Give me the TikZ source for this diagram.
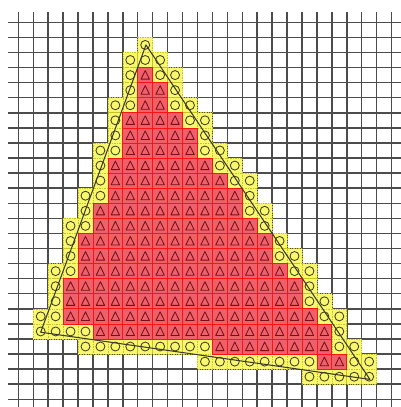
\documentclass[tikz,border=0pt]{standalone}
\usepackage{xcolor}
\usepackage{tikz}
\definecolor{haloyellow}{RGB}{248,248,110}
\definecolor{haloedge}{RGB}{200,195,30}
\definecolor{corered}{RGB}{238,96,106}
\definecolor{coreedge}{RGB}{250,20,20}
\definecolor{markdark}{RGB}{70,60,20}
\definecolor{tridark}{RGB}{120,15,20}
\newcommand{\halopix}[2]{%
  \fill[halo] (#1,#2) rectangle ++(1,1);
  \draw[haloframe] (#1,#2) rectangle ++(1,1);
  \draw[ring] (#1+.5,#2+.5) circle[radius=1.5mm];}
\newcommand{\corepix}[2]{%
  \fill[core] (#1,#2) rectangle ++(1,1);
  \draw[coreframe] (#1,#2) rectangle ++(1,1);
  \draw[tri] (#1+.5,#2+.2) -- (#1+.22,#2+.77) -- (#1+.78,#2+.77) -- cycle;}

\begin{document}
\begin{tikzpicture}[
  x=5mm, y=-5.05mm,
  gridline/.style={black!70, line width=1.4pt},
  halo/.style={fill=haloyellow},
  haloframe/.style={draw=haloedge, densely dotted, line width=0.6pt},
  ring/.style={draw=markdark, line width=0.8pt},
  core/.style={fill=corered},
  coreframe/.style={draw=coreedge, line width=0.7pt},
  tri/.style={draw=tridark, line width=0.8pt, line join=round},
  outline/.style={draw=black!75!olive, line width=1pt, line join=round}
]
\useasboundingbox (-1.226,-1.479) rectangle (25.63,25.51);

\foreach \i in {0,...,25} {
  \draw[gridline] (\i,-0.7) -- (\i,25.51);
  \draw[gridline] (-0.7,\i) -- (25.63,\i);
}

\foreach \r/\cols in {1/{8}, 2/{7,8,9}, 3/{7,9,10}, 4/{7,10}, 5/{6,7,10,11},
    6/{6,11,12}, 7/{6,12}, 8/{5,6,12,13}, 9/{5,13,14}, 10/{5,14,15},
    11/{4,5,15}, 12/{4,15,16}, 13/{3,4,16}, 14/{3,17}, 15/{3,17,18},
    16/{2,3,18,19}, 17/{2,19}, 18/{2,19,20}, 19/{1,2,20,21},
    20/{1,2,3,4,21}, 21/{4,...,12,21,22}, 22/{12,...,19,22,23}, 23/{19,...,23}}
  \foreach \c in \cols {\halopix{\c}{\r}}

\foreach \r/\a/\b in {3/8/8, 4/8/9, 5/8/9, 6/7/10, 7/7/11, 8/7/11, 9/6/12,
    10/6/13, 11/6/14, 12/5/14, 13/5/15, 14/4/16, 15/4/16, 16/4/17,
    17/3/18, 18/3/18, 19/3/19, 20/5/20, 21/13/20, 22/20/21}
  \foreach \c in {\a,...,\b} {\corepix{\c}{\r}}

\coordinate (top) at (8.55,1.5);
\coordinate (left) at (1.5,20.55);
\coordinate (right) at (23.55,23.68);
\draw[outline] (top) -- (left) -- (right) -- cycle;
\end{tikzpicture}
\end{document}
